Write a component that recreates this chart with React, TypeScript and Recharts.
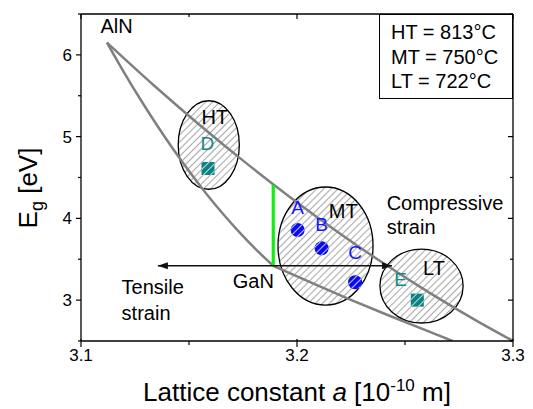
import { ComposedChart, Line, Scatter, XAxis, YAxis, ReferenceArea, Label } from "recharts";

const FONT = '"Liberation Sans", Arial, Helvetica, sans-serif';

// lattice constant a [1e-10 m] vs band gap Eg [eV]
const inAlnA = [3.112, 3.1334, 3.1548, 3.1762, 3.1976, 3.219, 3.2404, 3.2618, 3.2832, 3.3];
const inAlnEg = [6.15, 5.635, 5.146, 4.682, 4.244, 3.831, 3.444, 3.082, 2.746, 2.5];

const alGanA = [3.112, 3.1197, 3.1274, 3.1351, 3.1428, 3.1505, 3.1582, 3.1659, 3.1736, 3.1813, 3.189];
const alGanEg = [6.15, 5.796, 5.46, 5.142, 4.842, 4.56, 4.296, 4.05, 3.822, 3.612, 3.42];

const inGanA = [3.189, 3.2066, 3.2241, 3.2417, 3.2592, 3.272];
const inGanEg = [3.42, 3.213, 3.013, 2.821, 2.636, 2.5];

// InAlN lattice matched to GaN
const matchedA = [3.189, 3.189];
const matchedEg = [3.42, 4.41];

// strain arrow along the GaN band gap
const arrowA = [3.1356, 3.244];
const arrowEg = [3.42, 3.42];

// samples
const blueNames = ["A", "B", "C"];
const blueA = [3.2003, 3.2114, 3.2269];
const blueEg = [3.858, 3.634, 3.218];
const blueLabelEg = [4.13, 3.92, 3.58];

const tealNames = ["D", "E"];
const tealA = [3.1588, 3.2557];
const tealEg = [4.61, 3.0];
const tealLabelA = [3.1585, 3.248];
const tealLabelEg = [4.91, 3.25];

// growth temperature regions
const regionNames = ["HT", "MT", "LT"];
const regionA1 = [3.145, 3.1912, 3.2384];
const regionA2 = [3.1733, 3.2352, 3.2769];
const regionEg1 = [4.356, 2.94, 2.72];
const regionEg2 = [5.439, 4.384, 3.625];
const regionLabelA = [3.162, 3.2214, 3.2634];
const regionLabelEg = [5.236, 4.09, 3.397];
const regionTemps = [813, 750, 722];

const noteTexts = ["AlN", "GaN"];
const noteA = [3.1165, 3.1798];
const noteEg = [6.353, 3.238];

const strainTexts = ["Compressive", "strain", "Tensile", "strain"];
const strainA = [3.2415, 3.2415, 3.1188, 3.1188];
const strainEg = [4.187, 3.89, 3.157, 2.839];

const xDomain = [3.1, 3.3];
const yDomain = [2.5, 6.5];
const xTicks = [3.1, 3.15, 3.2, 3.25, 3.3];
const yTicks = [2.5, 3, 3.5, 4, 4.5, 5, 5.5, 6, 6.5];

const W = 533;
const H = 409;
const MARGIN = { top: 14, right: 20, bottom: 8, left: 21 };
const Y_AXIS_W = 60;
const X_AXIS_H = 60;

const pts = (a: number[], eg: number[]) => a.map((v, i) => ({ a: v, eg: eg[i] }));
const named = (a: number[], eg: number[], text: string[]) =>
  a.map((v, i) => ({ a: v, eg: eg[i], text: text[i] }));

const isMajorX = (v: number) => Math.abs(v * 10 - Math.round(v * 10)) < 1e-6;
const isMajorY = (v: number) => Math.abs(v - Math.round(v)) < 1e-6;

const textShape = (fill: string, size: number, anchor: "start" | "middle" = "middle") =>
  (p: any) => (
    <text x={p.cx} y={p.cy} fill={fill} fontSize={size} fontFamily={FONT}
      textAnchor={anchor} dominantBaseline="central">
      {p.payload.text}
    </text>
  );

const blueDot = (p: any) => (
  <g>
    <circle cx={p.cx} cy={p.cy} r={7} fill="#0a0aee" />
    <circle cx={p.cx} cy={p.cy} r={7} fill="url(#dotHatch)" />
  </g>
);

const tealSquare = (p: any) => (
  <g>
    <rect x={p.cx - 6.5} y={p.cy - 6.5} width={13} height={13} fill="#0b8080" />
    <rect x={p.cx - 6.5} y={p.cy - 6.5} width={13} height={13} fill="url(#dotHatch)" />
  </g>
);

const arrowHead = (p: any) => {
  const dir = p.index === 0 ? -1 : 1;
  const tip = p.cx;
  return (
    <path d={`M${tip},${p.cy} L${tip - dir * 10},${p.cy - 3.5} L${tip - dir * 10},${p.cy + 3.5} Z`} fill="#111" />
  );
};

const regionShape = (p: any) => (
  <ellipse cx={p.x + p.width / 2} cy={p.y + p.height / 2} rx={p.width / 2} ry={p.height / 2}
    fill="url(#hatch)" stroke="#000" strokeWidth={1.3} />
);

const bottomTick = (p: any) => {
  const v = p.payload.value;
  const major = isMajorX(v);
  return (
    <g>
      <line x1={p.x} x2={p.x} y1={p.y - (major ? 2 : 0)} y2={p.y + (major ? 6 : 4)} stroke="#000" strokeWidth={1.2} />
      {major && (
        <text x={p.x} y={p.y + 20} textAnchor="middle" fontSize={17} fontFamily={FONT} fill="#000">
          {v.toFixed(1)}
        </text>
      )}
    </g>
  );
};

const leftTick = (p: any) => {
  const v = p.payload.value;
  const major = isMajorY(v);
  return (
    <g>
      <line x1={p.x - (major ? 5 : 3)} x2={p.x} y1={p.y} y2={p.y} stroke="#000" strokeWidth={1.2} />
      {major && (
        <text x={p.x - 9} y={p.y + 6} textAnchor="end" fontSize={17} fontFamily={FONT} fill="#000">
          {v}
        </text>
      )}
    </g>
  );
};

// x title, plus the mirrored top and right frame edges with inward ticks
const xTitle = (p: any) => {
  const vb = p.viewBox;
  const left = vb.x;
  const right = vb.x + vb.width;
  const bottom = vb.y;
  const top = MARGIN.top;
  const width = right - left;
  const height = bottom - top;
  return (
    <g>
      <line x1={left} x2={right} y1={top} y2={top} stroke="#000" strokeWidth={1.3} />
      <line x1={right} x2={right} y1={top} y2={bottom} stroke="#000" strokeWidth={1.3} />
      {xTicks.map((v) => {
        const x = left + ((v - xDomain[0]) / (xDomain[1] - xDomain[0])) * width;
        return <line key={`t${v}`} x1={x} x2={x} y1={top} y2={top + (isMajorX(v) ? 5 : 3)} stroke="#000" strokeWidth={1.2} />;
      })}
      {yTicks.map((v) => {
        const y = bottom - ((v - yDomain[0]) / (yDomain[1] - yDomain[0])) * height;
        return <line key={`r${v}`} x1={right - (isMajorY(v) ? 5 : 3)} x2={right} y1={y} y2={y} stroke="#000" strokeWidth={1.2} />;
      })}
      <text x={left + width / 2} y={bottom + 60} textAnchor="middle" fontSize={26} fontFamily={FONT} fill="#000">
        Lattice constant <tspan fontStyle="italic">a</tspan> [10<tspan dy={-10} fontSize={17}>-10</tspan>
        <tspan dy={10}> m]</tspan>
      </text>
    </g>
  );
};

const yTitle = () => {
  const cx = 37;
  const cy = 188;
  return (
    <text x={cx} y={cy} transform={`rotate(-90 ${cx} ${cy})`} textAnchor="middle" fontSize={26} fontFamily={FONT} fill="#000">
      E<tspan dy={6} fontSize={18}>g</tspan><tspan dy={-6}> [eV]</tspan>
    </text>
  );
};

export default function App() {
  return (
    <div style={{ position: "absolute", left: 0, top: 0, width: W, height: H, background: "#fff" }}>
      <svg width={0} height={0} style={{ position: "absolute" }}>
        <defs>
          <pattern id="hatch" patternUnits="userSpaceOnUse" width={5} height={5} patternTransform="rotate(45)">
            <line x1={2.5} y1={0} x2={2.5} y2={5} stroke="#aaaaaa" strokeWidth={1.1} />
          </pattern>
          <pattern id="dotHatch" patternUnits="userSpaceOnUse" width={5} height={5} patternTransform="rotate(45)">
            <line x1={2.5} y1={0} x2={2.5} y2={5} stroke="#ffffff" strokeOpacity={0.75} strokeWidth={1} />
          </pattern>
        </defs>
      </svg>
      <ComposedChart width={W} height={H} margin={MARGIN}>
        <XAxis dataKey="a" type="number" domain={xDomain} allowDataOverflow ticks={xTicks}
          height={X_AXIS_H} tickSize={0} tickMargin={0} tickLine={false} tick={bottomTick}
          axisLine={{ stroke: "#000", strokeWidth: 1.3 }} interval={0}>
          <Label content={xTitle} />
        </XAxis>
        <YAxis dataKey="eg" type="number" domain={yDomain} allowDataOverflow ticks={yTicks}
          width={Y_AXIS_W} tickSize={0} tickMargin={0} tickLine={false} tick={leftTick}
          axisLine={{ stroke: "#000", strokeWidth: 1.3 }} interval={0}>
          <Label content={yTitle} />
        </YAxis>

        {regionNames.map((n, i) => (
          <ReferenceArea key={n} x1={regionA1[i]} x2={regionA2[i]} y1={regionEg1[i]} y2={regionEg2[i]}
            shape={regionShape} />
        ))}

        <Line data={pts(inAlnA, inAlnEg)} dataKey="eg" type="monotone" stroke="#808080" strokeWidth={2.5}
          dot={false} activeDot={false} isAnimationActive={false} />
        <Line data={pts(alGanA, alGanEg)} dataKey="eg" type="monotone" stroke="#808080" strokeWidth={2.5}
          dot={false} activeDot={false} isAnimationActive={false} />
        <Line data={pts(inGanA, inGanEg)} dataKey="eg" type="monotone" stroke="#808080" strokeWidth={2.5}
          dot={false} activeDot={false} isAnimationActive={false} />
        <Line data={pts(matchedA, matchedEg)} dataKey="eg" type="linear"
          stroke="#11ee11" strokeWidth={3.2} dot={false} activeDot={false} isAnimationActive={false} />
        <Line data={pts(arrowA, arrowEg)} dataKey="eg" type="linear" stroke="#111" strokeWidth={1.4}
          dot={false} activeDot={false} isAnimationActive={false} />
        <Scatter data={pts(arrowA, arrowEg)} dataKey="eg" shape={arrowHead} isAnimationActive={false} />

        <Scatter data={pts(blueA, blueEg)} dataKey="eg" shape={blueDot} isAnimationActive={false} />
        <Scatter data={pts(tealA, tealEg)} dataKey="eg" shape={tealSquare} isAnimationActive={false} />

        <Scatter data={named(blueA, blueLabelEg, blueNames)} dataKey="eg" shape={textShape("#1414ff", 19)} isAnimationActive={false} />
        <Scatter data={named(tealLabelA, tealLabelEg, tealNames)} dataKey="eg" shape={textShape("#138a8a", 19)} isAnimationActive={false} />
        <Scatter data={named(regionLabelA, regionLabelEg, regionNames)} dataKey="eg" shape={textShape("#000", 20)} isAnimationActive={false} />
        <Scatter data={named(noteA, noteEg, noteTexts)} dataKey="eg" shape={textShape("#000", 20)} isAnimationActive={false} />
        <Scatter data={named(strainA, strainEg, strainTexts)} dataKey="eg" shape={textShape("#000", 20, "start")} isAnimationActive={false} />
      </ComposedChart>

      <div style={{
        position: "absolute", left: 379, top: 14, width: 134, height: 85, border: "1px solid #000",
        background: "#fff", fontFamily: FONT, fontSize: 20, lineHeight: "24.5px",
        paddingTop: 5, paddingLeft: 11, boxSizing: "border-box", color: "#000",
      }}>
        {regionNames.map((n, i) => (
          <div key={n}>{n} = {regionTemps[i]}°C</div>
        ))}
      </div>
    </div>
  );
}
